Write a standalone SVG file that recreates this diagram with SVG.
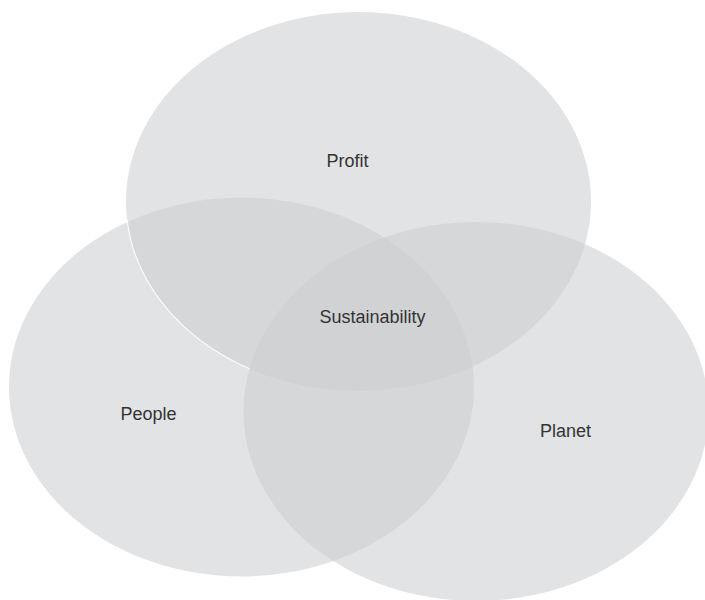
<svg xmlns="http://www.w3.org/2000/svg" width="705" height="600" viewBox="0 0 705 600">
  <style>
    .set { fill: #cdced1; fill-opacity: 0.58; }
    .label { font-family: "Liberation Sans", Arial, sans-serif; font-size: 18px; fill: #333333; text-anchor: middle; }
  </style>
  <rect width="705" height="600" fill="#ffffff"/>
  <g id="people">
    <ellipse class="set" cx="241.5" cy="387" rx="232.5" ry="189.5"/>
  </g>
  <g id="profit">
    <ellipse class="set" cx="358.5" cy="201.5" rx="232.5" ry="189.5"/>
    <!-- light rim where the profit set crosses the people set -->
    <path d="M127,219 A232.5,189.5 0 0 0 250,369" fill="none" stroke="#ffffff" stroke-width="1.2" stroke-opacity="0.9"/>
  </g>
  <g id="planet">
    <ellipse class="set" cx="476" cy="411.5" rx="232.5" ry="189.5"/>
  </g>
  <g id="connectors"></g>
  <g id="labels">
    <text class="label" x="347.5" y="167">Profit</text>
    <text class="label" x="372.5" y="323">Sustainability</text>
    <text class="label" x="148.5" y="420">People</text>
    <text class="label" x="565.5" y="437">Planet</text>
  </g>
</svg>
